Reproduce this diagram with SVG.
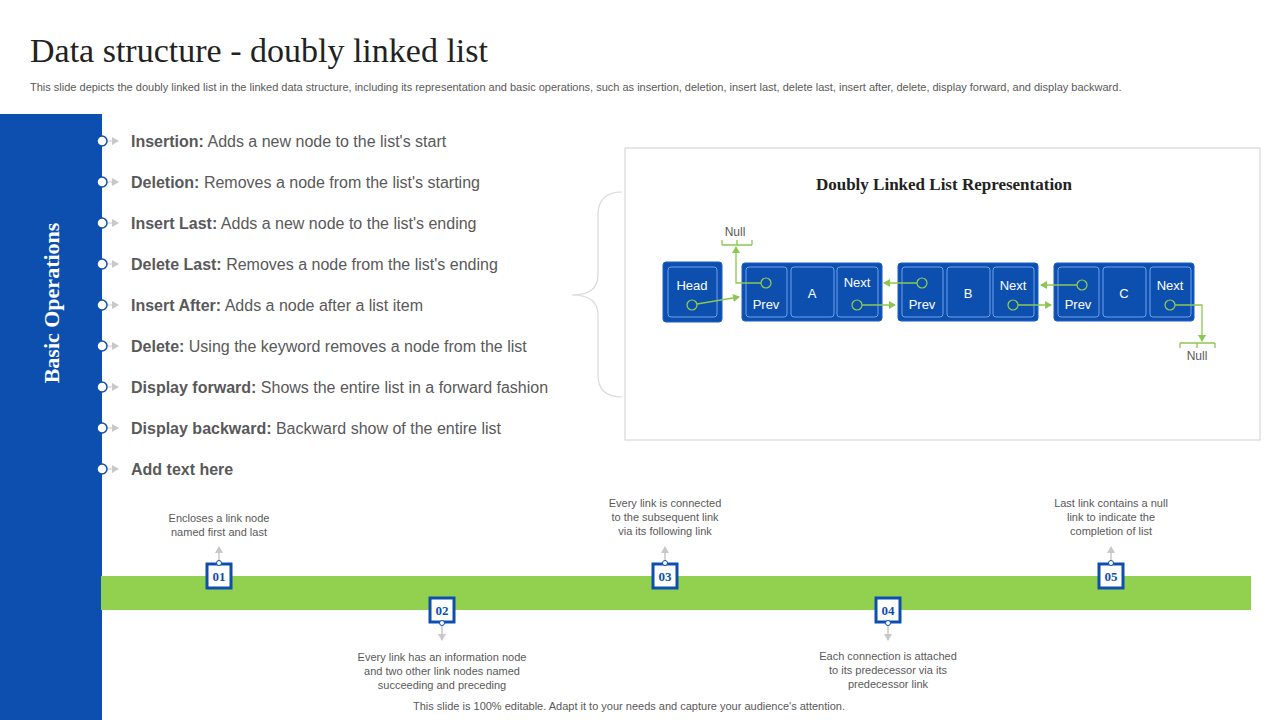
<svg xmlns="http://www.w3.org/2000/svg" width="1280" height="720" viewBox="0 0 1280 720">
<defs>
<style>
.t{font-family:"Liberation Sans",Arial,sans-serif;fill:#595959}
.s{font-family:"Liberation Serif","Times New Roman",serif}
.b{font-size:16px}
.b tspan.k{font-weight:bold}
.w{font-family:"Liberation Sans",Arial,sans-serif;fill:#fff;font-size:13px;text-anchor:middle}
.outer{fill:#0d4fae;stroke:#1a5fd0;stroke-width:1}
.cell{fill:#0d4fae;stroke:#6fa0ee;stroke-width:1}
.pt{fill:none;stroke:#92d050;stroke-width:1.2}
.g{fill:none;stroke:#8cc850;stroke-width:1.3}
.nb{fill:#fff;stroke:#0d4fae;stroke-width:3}
.nt{font-family:"Liberation Serif",serif;font-weight:bold;font-size:13px;fill:#0d4fae;text-anchor:middle}
.c{font-size:11px;text-anchor:middle}
</style>
<marker id="ga" markerWidth="8" markerHeight="8" refX="6" refY="4" orient="auto" markerUnits="userSpaceOnUse"><path d="M0,0 L7,4 L0,8 z" fill="#8cc850"/></marker>
<marker id="gr" markerWidth="8" markerHeight="8" refX="6" refY="4" orient="auto" markerUnits="userSpaceOnUse"><path d="M0,0 L7,4 L0,8 z" fill="#c8c8c8"/></marker>
</defs>
<rect width="1280" height="720" fill="#fff"/>
<text class="s" x="30" y="62" font-size="34" fill="#222">Data structure - doubly linked list</text>
<text class="t" x="30" y="91" font-size="11">This slide depicts the doubly linked list in the linked data structure, including its representation and basic operations, such as insertion, deletion, insert last, delete last, insert after, delete, display forward, and display backward.</text>
<rect x="0" y="114" width="102" height="606" fill="#0d4fae"/>
<text class="s" transform="translate(59,303) rotate(-90)" text-anchor="middle" font-size="22" font-weight="bold" fill="#fff">Basic Operations</text>
<g id="ops">
<g stroke="#c8c8c8" stroke-width="1">
<line x1="108" y1="141" x2="118" y2="141" marker-end="url(#gr)"/><line x1="108" y1="182" x2="118" y2="182" marker-end="url(#gr)"/><line x1="108" y1="223" x2="118" y2="223" marker-end="url(#gr)"/><line x1="108" y1="264" x2="118" y2="264" marker-end="url(#gr)"/><line x1="108" y1="305" x2="118" y2="305" marker-end="url(#gr)"/><line x1="108" y1="346" x2="118" y2="346" marker-end="url(#gr)"/><line x1="108" y1="387" x2="118" y2="387" marker-end="url(#gr)"/><line x1="108" y1="428" x2="118" y2="428" marker-end="url(#gr)"/><line x1="108" y1="469" x2="118" y2="469" marker-end="url(#gr)"/>
</g>
<g fill="#fff" stroke="#0d4fae" stroke-width="1.5">
<circle cx="102" cy="141" r="5"/><circle cx="102" cy="182" r="5"/><circle cx="102" cy="223" r="5"/><circle cx="102" cy="264" r="5"/><circle cx="102" cy="305" r="5"/><circle cx="102" cy="346" r="5"/><circle cx="102" cy="387" r="5"/><circle cx="102" cy="428" r="5"/><circle cx="102" cy="469" r="5"/>
</g>
<text class="t b" x="131" y="147"><tspan class="k">Insertion:</tspan> Adds a new node to the list's start</text>
<text class="t b" x="131" y="188"><tspan class="k">Deletion:</tspan> Removes a node from the list's starting</text>
<text class="t b" x="131" y="229"><tspan class="k">Insert Last:</tspan> Adds a new node to the list's ending</text>
<text class="t b" x="131" y="270"><tspan class="k">Delete Last:</tspan> Removes a node from the list's ending</text>
<text class="t b" x="131" y="311"><tspan class="k">Insert After:</tspan> Adds a node after a list item</text>
<text class="t b" x="131" y="352"><tspan class="k">Delete:</tspan> Using the keyword removes a node from the list</text>
<text class="t b" x="131" y="393"><tspan class="k">Display forward:</tspan> Shows the entire list in a forward fashion</text>
<text class="t b" x="131" y="434"><tspan class="k">Display backward:</tspan> Backward show of the entire list</text>
<text class="t b" x="131" y="475"><tspan class="k">Add text here</tspan></text>
</g>
<path d="M622,192 Q598,192 598,215 L598,275 Q598,295 572,295 Q598,295 598,315 L598,375 Q598,397 622,397" fill="none" stroke="#d9d9d9" stroke-width="1.2"/>
<rect x="625" y="148" width="635" height="292" fill="#fff" stroke="#d0d0d0"/>
<text class="s" x="944" y="190" text-anchor="middle" font-size="17" font-weight="bold" fill="#222">Doubly Linked List Representation</text>
<g id="head"><rect class="outer" x="663" y="262" width="59" height="60" rx="3"/><rect class="cell" x="668" y="267" width="49" height="50" rx="3"/><text class="w" x="692" y="290">Head</text><circle class="pt" cx="692" cy="305" r="5"/></g>
<g id="nodeA"><rect class="outer" x="742" y="263" width="140" height="58" rx="3"/><rect class="cell" x="746" y="267" width="41" height="50" rx="3"/><rect class="cell" x="791" y="267" width="43" height="50" rx="3"/><rect class="cell" x="837" y="267" width="41" height="50" rx="3"/><text class="w" x="766" y="309">Prev</text><text class="w" x="812" y="298" font-size="14">A</text><text class="w" x="857" y="287">Next</text><circle class="pt" cx="766" cy="283" r="5"/><circle class="pt" cx="857" cy="305" r="5"/></g>
<g id="nodeB"><rect class="outer" x="898" y="263" width="140" height="58" rx="3"/><rect class="cell" x="902" y="267" width="41" height="50" rx="3"/><rect class="cell" x="947" y="267" width="43" height="50" rx="3"/><rect class="cell" x="993" y="267" width="41" height="50" rx="3"/><text class="w" x="922" y="309">Prev</text><text class="w" x="968" y="298" font-size="14">B</text><text class="w" x="1013" y="290">Next</text><circle class="pt" cx="922" cy="283" r="5"/><circle class="pt" cx="1013" cy="305" r="5"/></g>
<g id="nodeC"><rect class="outer" x="1054" y="263" width="140" height="58" rx="3"/><rect class="cell" x="1058" y="267" width="41" height="50" rx="3"/><rect class="cell" x="1103" y="267" width="43" height="50" rx="3"/><rect class="cell" x="1150" y="267" width="41" height="50" rx="3"/><text class="w" x="1078" y="309">Prev</text><text class="w" x="1124" y="298" font-size="14">C</text><text class="w" x="1170" y="290">Next</text><circle class="pt" cx="1082" cy="285" r="5"/><circle class="pt" cx="1170" cy="305" r="5"/></g>
<g id="null1"><path class="g" d="M722,245 H752 M722,240 V245 M752,240 V245 M737,240 V245"/><text class="t" x="735" y="236" font-size="12" text-anchor="middle">Null</text></g>
<g id="null2"><path class="g" d="M1180,343 H1215 M1180,343 V348 M1215,343 V348 M1197,343 V348"/><text class="t" x="1197" y="360" font-size="12" text-anchor="middle">Null</text></g>
<g id="connectors">
<path class="g" d="M697,304 L739,297" marker-end="url(#ga)"/>
<path class="g" d="M761,283 H736 V247" marker-end="url(#ga)"/>
<path class="g" d="M862,305 H895" marker-end="url(#ga)"/>
<path class="g" d="M917,283 H884" marker-end="url(#ga)"/>
<path class="g" d="M1018,305 H1051" marker-end="url(#ga)"/>
<path class="g" d="M1077,285 H1041" marker-end="url(#ga)"/>
<path class="g" d="M1175,305 H1202 V341" marker-end="url(#ga)"/>
<g stroke="#c8c8c8" stroke-width="1.5">
<line x1="219" y1="561" x2="219" y2="547" marker-end="url(#gr)"/>
<line x1="665" y1="561" x2="665" y2="547" marker-end="url(#gr)"/>
<line x1="1111" y1="561" x2="1111" y2="547" marker-end="url(#gr)"/>
<line x1="442" y1="625" x2="442" y2="640" marker-end="url(#gr)"/>
<line x1="888" y1="625" x2="888" y2="640" marker-end="url(#gr)"/>
</g>
</g>
<rect x="101" y="576" width="1150" height="34" fill="#92d050"/>
<g id="s01"><rect class="nb" x="207" y="564" width="24" height="24"/><circle cx="219" cy="563" r="2.5" fill="#fff" stroke="#0d4fae"/><text class="nt" x="219" y="581">01</text><text class="t c" x="219" y="522">Encloses a link node</text><text class="t c" x="219" y="536">named first and last</text></g>
<g id="s02"><rect class="nb" x="430" y="598" width="24" height="24"/><circle cx="442" cy="623" r="2.5" fill="#fff" stroke="#0d4fae"/><text class="nt" x="442" y="615">02</text><text class="t c" x="442" y="661">Every link has an information node</text><text class="t c" x="442" y="675">and two other link nodes named</text><text class="t c" x="442" y="689">succeeding and preceding</text></g>
<g id="s03"><rect class="nb" x="653" y="564" width="24" height="24"/><circle cx="665" cy="563" r="2.5" fill="#fff" stroke="#0d4fae"/><text class="nt" x="665" y="581">03</text><text class="t c" x="665" y="507">Every link is connected</text><text class="t c" x="665" y="521">to the subsequent link</text><text class="t c" x="665" y="535">via its following link</text></g>
<g id="s04"><rect class="nb" x="876" y="598" width="24" height="24"/><circle cx="888" cy="623" r="2.5" fill="#fff" stroke="#0d4fae"/><text class="nt" x="888" y="615">04</text><text class="t c" x="888" y="660">Each connection is attached</text><text class="t c" x="888" y="674">to its predecessor via its</text><text class="t c" x="888" y="688">predecessor link</text></g>
<g id="s05"><rect class="nb" x="1099" y="564" width="24" height="24"/><circle cx="1111" cy="563" r="2.5" fill="#fff" stroke="#0d4fae"/><text class="nt" x="1111" y="581">05</text><text class="t c" x="1111" y="507">Last link contains a null</text><text class="t c" x="1111" y="521">link to indicate the</text><text class="t c" x="1111" y="535">completion of list</text></g>
<text class="t" x="629" y="710" font-size="11" text-anchor="middle">This slide is 100% editable. Adapt it to your needs and capture your audience's attention.</text>
</svg>
